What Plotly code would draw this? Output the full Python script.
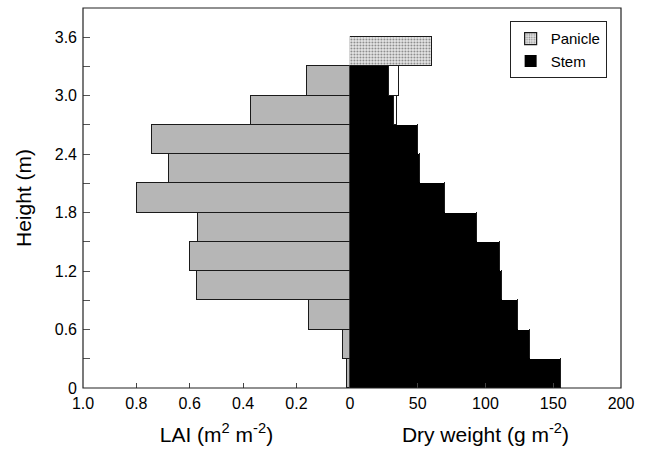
import plotly.graph_objects as go

# Canopy layers (0.3 m thick), bottom to top
layer_mid = [0.15, 0.45, 0.75, 1.05, 1.35, 1.65, 1.95, 2.25, 2.55, 2.85, 3.15]
lai = [0.010, 0.025, 0.153, 0.574, 0.599, 0.569, 0.799, 0.677, 0.740, 0.372, 0.162]
stem = [155.7, 132.8, 124.2, 112.4, 110.7, 93.5, 70.1, 51.9, 50.4, 32.7, 28.8]
stem_extra = [0, 0, 0, 0, 0, 0, 0, 0, 0, 2.2, 7.4]
panicle_mid = [3.45]
panicle = [60.3]

lai_ticks = [1.0, 0.8, 0.6, 0.4, 0.2]
lai_ticktext = ["1.0", "0.8", "0.6", "0.4", "0.2"]
dw_ticks = [0, 50, 100, 150, 200]
h_ticks = [0, 0.6, 1.2, 1.8, 2.4, 3.0, 3.6]
h_ticktext = ["0", "0.6", "1.2", "1.8", "2.4", "3.0", "3.6"]
h_minor = [0.3, 0.9, 1.5, 2.1, 2.7, 3.3]

FONT = "Liberation Sans, Arial, sans-serif"
split = 0.496

fig = go.Figure()

fig.add_trace(go.Bar(
    y=layer_mid, x=lai, orientation="h", width=0.3,
    marker=dict(color="#b6b6b6", line=dict(color="#1a1a1a", width=1.2)),
    xaxis="x", yaxis="y", showlegend=False, name="LAI",
))
fig.add_trace(go.Bar(
    y=panicle_mid, x=panicle, orientation="h", width=0.3,
    marker=dict(color="#e6e6e6", line=dict(color="#1a1a1a", width=1.2),
                pattern=dict(shape=".", fgcolor="#222222", bgcolor="#e6e6e6",
                             size=3, solidity=0.3)),
    xaxis="x2", yaxis="y", name="Panicle",
))
fig.add_trace(go.Bar(
    y=layer_mid, x=stem, orientation="h", width=0.3,
    marker=dict(color="black", line=dict(color="black", width=0)),
    xaxis="x2", yaxis="y", name="Stem",
))
fig.add_trace(go.Bar(
    y=layer_mid, x=stem_extra, orientation="h", width=0.3,
    marker=dict(color="white", line=dict(color="#1a1a1a", width=1.2)),
    xaxis="x2", yaxis="y", showlegend=False, name="other",
))

fig.update_layout(
    width=649, height=451,
    margin=dict(l=83, r=28, t=8, b=63),
    paper_bgcolor="white", plot_bgcolor="white",
    barmode="stack", bargap=0,
    font=dict(family=FONT, size=16, color="black"),
    xaxis=dict(
        domain=[0, split], range=[1.0, 0], anchor="y",
        tickvals=lai_ticks, ticktext=lai_ticktext,
        ticks="inside", ticklen=5, tickcolor="#444", showgrid=False,
        zeroline=False, showline=False, ticklabelstandoff=4,
        title=dict(text="LAI (m<sup>2</sup> m<sup>-2</sup>)",
                   font=dict(size=21), standoff=16),
    ),
    xaxis2=dict(
        domain=[split, 1], range=[0, 200], anchor="y",
        tickvals=dw_ticks, ticks="inside", ticklen=5, tickcolor="#444",
        showgrid=False, zeroline=False, showline=False, ticklabelstandoff=4,
        title=dict(text="Dry weight (g m<sup>-2</sup>)",
                   font=dict(size=21), standoff=16),
    ),
    yaxis=dict(
        range=[0, 3.9], anchor="x",
        tickvals=h_ticks, ticktext=h_ticktext,
        ticks="inside", ticklen=7, tickcolor="#555",
        minor=dict(tickvals=h_minor, ticks="inside", ticklen=7, tickcolor="#555"),
        showgrid=False, zeroline=False, showline=False, ticklabelstandoff=5,
        title=dict(text="Height (m)", font=dict(size=21), standoff=17),
    ),
    legend=dict(
        x=0.793, y=0.965, xanchor="left", yanchor="top",
        bordercolor="#222", borderwidth=1, bgcolor="white",
        font=dict(size=15), traceorder="normal",
        itemwidth=30, tracegroupgap=0,
    ),
    shapes=[dict(type="rect", xref="paper", yref="paper",
                 x0=0, x1=1, y0=0, y1=1,
                 line=dict(color="#222", width=1.2), layer="above")],
)

fig.write_html("out.html")
